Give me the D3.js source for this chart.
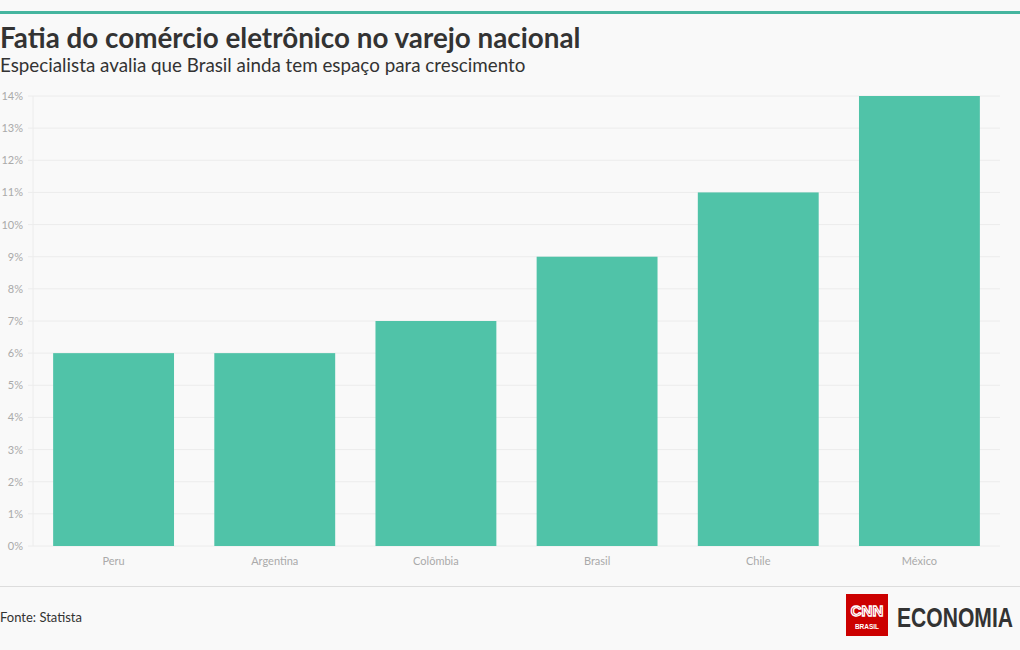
<!DOCTYPE html>
<html><head><meta charset="utf-8">
<script src="https://cdn.jsdelivr.net/npm/d3@7"></script>
<style>
body{margin:0;background:#f9f9f9;}
svg{display:block;font-family:Lato,"Noto Sans",sans-serif;}
</style></head><body>
<svg id="c" width="1020" height="650"></svg>
<script>
const categories = ["Peru","Argentina","Colômbia","Brasil","Chile","México"];
const values = [6, 6, 7, 9, 11, 14];
const yTicks = [0,1,2,3,4,5,6,7,8,9,10,11,12,13,14];
const title = "Fatia do comércio eletrônico no varejo nacional";
const subtitle = "Especialista avalia que Brasil ainda tem espaço para crescimento";
const source = "Fonte: Statista";

const svg = d3.select("#c");
svg.append("rect").attr("width",1020).attr("height",650).attr("fill","#f9f9f9");
svg.append("rect").attr("x",0).attr("y",11).attr("width",1020).attr("height",3).attr("fill","#45b59f");
svg.append("text").attr("x",0).attr("y",48).attr("font-size",27.8).attr("font-weight",700).attr("fill","#333").text(title);
svg.append("text").attr("x",0).attr("y",72).attr("font-size",18.8).attr("fill","#333").text(subtitle);

const x = d3.scaleBand().domain(categories).range([33,1000]).paddingInner(0.25).paddingOuter(0.125);
const y = d3.scaleLinear().domain([0,14]).range([546,96]);

const g = svg.append("g");
g.selectAll("line.grid").data(yTicks).join("line").attr("class","grid")
 .attr("x1",28).attr("x2",1000).attr("y1",d=>y(d)).attr("y2",d=>y(d))
 .attr("stroke","#ececec").attr("stroke-width",1);
g.append("line").attr("x1",33).attr("x2",33).attr("y1",96).attr("y2",546).attr("stroke","#ececec");

g.selectAll("text.yl").data(yTicks).join("text").attr("class","yl")
 .attr("x",23).attr("y",d=>y(d)+4).attr("text-anchor","end").attr("font-size",11).attr("fill","#aaa")
 .text(d=>d+"%");

g.selectAll("rect.bar").data(values).join("rect").attr("class","bar")
 .attr("x",(d,i)=>x(categories[i])).attr("width",x.bandwidth())
 .attr("y",d=>y(d)).attr("height",d=>y(0)-y(d)).attr("fill","#50c3a8");

g.selectAll("text.xl").data(categories).join("text").attr("class","xl")
 .attr("x",d=>x(d)+x.bandwidth()/2).attr("y",565).attr("text-anchor","middle")
 .attr("font-size",11).attr("fill","#aaa").text(d=>d);

svg.append("line").attr("x1",0).attr("x2",1020).attr("y1",586.5).attr("y2",586.5).attr("stroke","#ddd");
svg.append("text").attr("x",0).attr("y",622).attr("font-size",13).attr("fill","#333").text(source);

// logo
const lg = svg.append("g");
lg.append("rect").attr("x",846).attr("y",594).attr("width",42).attr("height",42).attr("fill","#cc0000");
lg.append("text").attr("x",867).attr("y",616).attr("text-anchor","middle").attr("font-size",15).attr("font-weight",700).attr("fill","none").attr("stroke","#fff").attr("stroke-width",1.3).attr("font-family","Liberation Sans").text("CNN");
lg.append("text").attr("x",867).attr("y",629).attr("text-anchor","middle").attr("font-size",6.5).attr("font-weight",700).attr("fill","#fff").attr("font-family","Liberation Sans").text("BRASIL");
const eco = lg.append("text").attr("x",0).attr("y",0).attr("font-size",27).attr("font-weight",700).attr("fill","#333")
 .attr("font-family","'Liberation Sans',sans-serif").text("ECONOMIA");
const ew = eco.node().getComputedTextLength();
eco.attr("transform",`translate(897,627) scale(${116/ew},1)`);
</script></body></html>
